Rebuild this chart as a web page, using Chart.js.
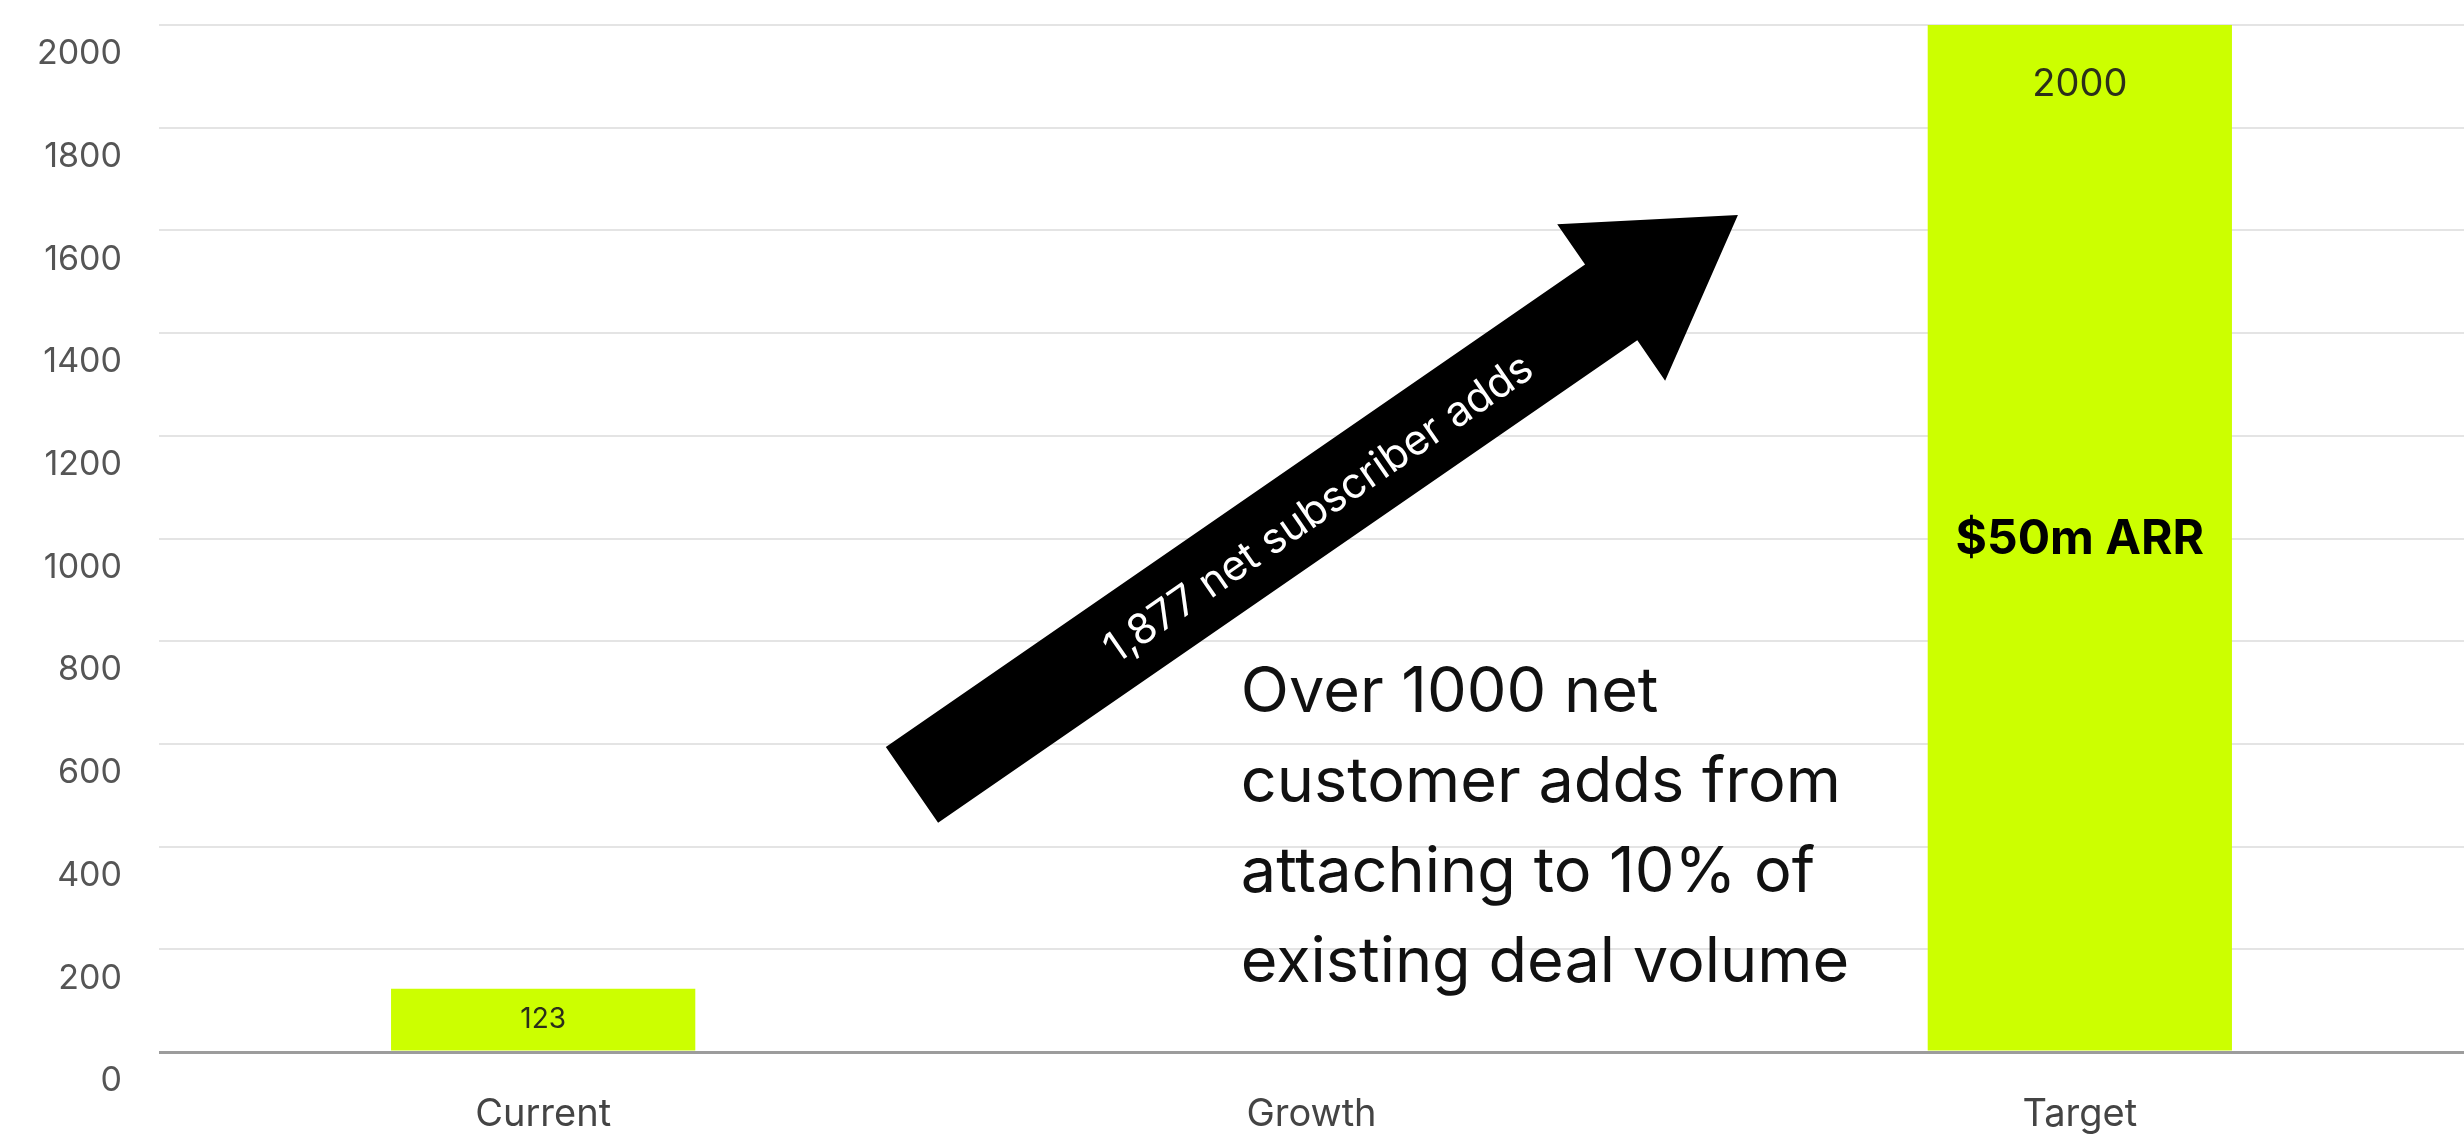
<!DOCTYPE html>
<html>
<head>
<meta charset="utf-8">
<title>Net subscriber growth</title>
<script src="https://cdn.jsdelivr.net/npm/chart.js@4.4.1/dist/chart.umd.min.js"></script>
<style>
  html, body { margin: 0; padding: 0; background: #fff; }
  #wrap { width: 2464px; height: 1142px; }
</style>
</head>
<body>
<div id="wrap"><canvas id="chart" width="2464" height="1142"></canvas></div>
<script>
'use strict';

// chart data
const categories = ['Current', 'Growth', 'Target'];
const subscribers = [123, null, 2000];
const arrowLabel = '1,877 net subscriber adds';
const targetNote = '$50m ARR';
const noteLines = ['Over 1000 net', 'customer adds from', 'attaching to 10% of', 'existing deal volume'];

Chart.defaults.font.family = 'Inter, "Noto Sans", sans-serif';

// draws the value labels, the big arrow and the text notes
const annotations = {
  id: 'annotations',
  afterDatasetsDraw(chart) {
    const ctx = chart.ctx;
    const x = chart.scales.x;
    const y = chart.scales.y;
    const meta = chart.getDatasetMeta(0);

    ctx.save();
    ctx.textAlign = 'center';
    ctx.textBaseline = 'middle';
    meta.data.forEach(function (bar, i) {
      if (subscribers[i] == null) return;
      const h = bar.base - bar.y;
      const size = Math.min(38, Math.round(h * 0.45));
      ctx.font = size + 'px Inter';
      ctx.fillStyle = '#2b2f1a';
      ctx.fillText(String(subscribers[i]), bar.x, Math.min(bar.y + 60, (bar.y + bar.base) / 2));
    });

    // note inside the target bar
    const target = meta.data[2];
    ctx.font = 'bold 48px Inter';
    ctx.fillStyle = '#000';
    ctx.fillText(targetNote, target.x, y.getPixelForValue(998));
    ctx.restore();

    // arrow from Current towards Target
    const x0 = x.getPixelForValue(0.48), y0 = y.getPixelForValue(520);
    const x1 = x.getPixelForValue(1.555), y1 = y.getPixelForValue(1630);
    const ang = Math.atan2(y1 - y0, x1 - x0);
    const len = Math.hypot(x1 - x0, y1 - y0);
    const sw = 46, hl = 154, hw = 95;
    ctx.save();
    ctx.translate(x0, y0);
    ctx.rotate(ang);
    ctx.beginPath();
    ctx.moveTo(0, -sw);
    ctx.lineTo(len - hl, -sw);
    ctx.lineTo(len - hl, -hw);
    ctx.lineTo(len, 0);
    ctx.lineTo(len - hl, hw);
    ctx.lineTo(len - hl, sw);
    ctx.lineTo(0, sw);
    ctx.closePath();
    ctx.fillStyle = '#000';
    ctx.fill();
    ctx.font = '42px Inter';
    ctx.fillStyle = '#fff';
    ctx.textAlign = 'center';
    ctx.textBaseline = 'middle';
    ctx.fillText(arrowLabel, len * 0.49, 4);
    ctx.restore();

    // explanation text
    ctx.save();
    ctx.font = '63px Inter';
    ctx.fillStyle = '#111';
    ctx.textAlign = 'left';
    ctx.textBaseline = 'alphabetic';
    const nx = x.getPixelForValue(0.908);
    const ny = y.getPixelForValue(662);
    noteLines.forEach(function (line, i) {
      ctx.fillText(line, nx, ny + i * 90);
    });
    ctx.restore();
  }
};

new Chart(document.getElementById('chart'), {
  type: 'bar',
  data: {
    labels: categories,
    datasets: [{
      label: 'Subscribers',
      data: subscribers,
      backgroundColor: '#ccff00',
      borderWidth: 0,
      categoryPercentage: 1,
      barPercentage: 0.396
    }]
  },
  options: {
    responsive: false,
    animation: false,
    layout: { padding: { top: 25, right: 0, bottom: 0, left: 0 } },
    plugins: {
      legend: { display: false },
      tooltip: { enabled: false }
    },
    scales: {
      x: {
        grid: { display: false },
        border: { display: false },
        ticks: { color: '#444', font: { size: 38 }, padding: 32 },
        afterFit(scale) { scale.height = 90; }
      },
      y: {
        min: 0,
        max: 2000,
        border: { display: false },
        grid: {
          drawTicks: false,
          color: (c) => c.tick && c.tick.value === 0 ? '#9c9c9c' : '#e4e4e4',
          lineWidth: (c) => c.tick && c.tick.value === 0 ? 3 : 2
        },
        ticks: {
          stepSize: 200,
          color: '#555',
          font: { size: 34 },
          padding: 37,
          labelOffset: 29,
          callback: (v) => String(v)
        },
        afterFit(scale) {
          scale.width = 159;
          scale.paddingTop = 0;
          scale.paddingBottom = 0;
        }
      }
    }
  },
  plugins: [annotations]
});
</script>
</body>
</html>
